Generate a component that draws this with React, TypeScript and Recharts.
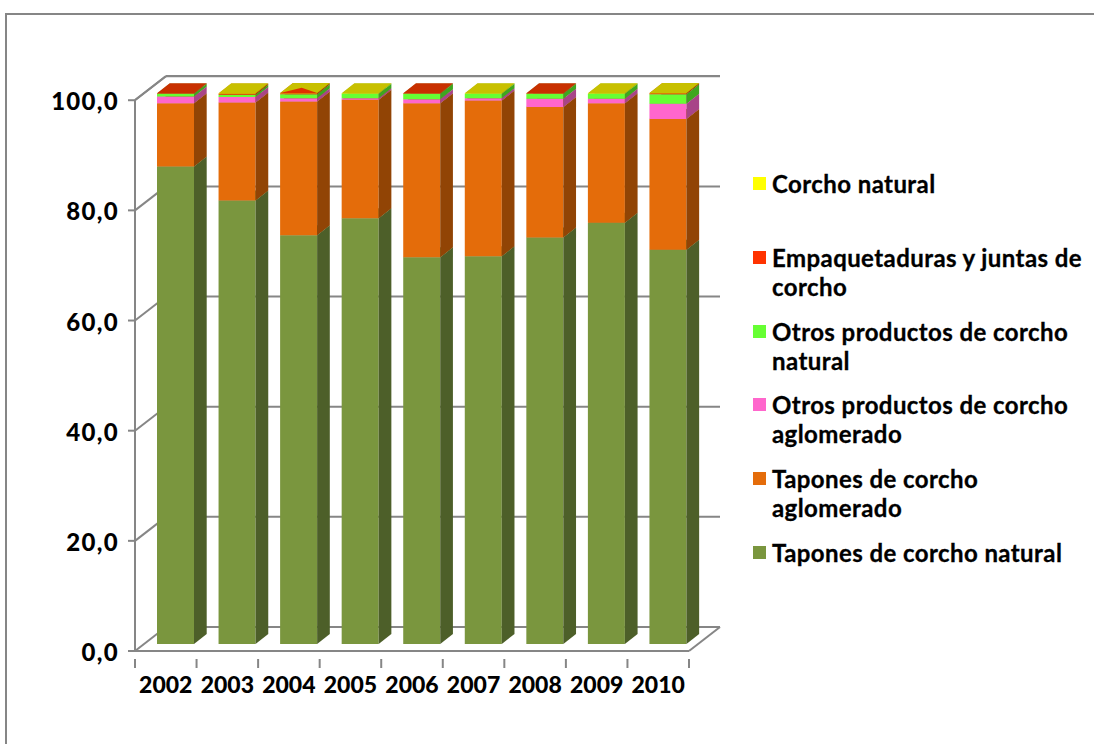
import { BarChart, Bar, XAxis, YAxis, CartesianGrid, Legend } from "recharts";

const years = ["2002", "2003", "2004", "2005", "2006", "2007", "2008", "2009", "2010"];
const taponesNatural = [86.7, 80.5, 74.2, 77.3, 70.2, 70.4, 73.8, 76.5, 71.6];
const taponesAglomerado = [11.5, 17.8, 24.3, 21.5, 28.0, 28.3, 23.7, 21.7, 23.7];
const otrosAglomerado = [1.2, 1.0, 0.6, 0.3, 0.7, 0.4, 1.5, 0.8, 2.8];
const otrosNatural = [0.5, 0.4, 0.7, 0.8, 1.0, 0.8, 0.9, 0.9, 1.7];
const empaquetaduras = [0.1, 0.2, 0.2, 0, 0.1, 0, 0.1, 0, 0.2];
const corchoNatural = [0, 0.1, 0.04, 0.1, 0, 0.1, 0, 0.1, 0.04];
const yTicks = [0, 20, 40, 60, 80, 100];

const series = [
  { key: "taponesNatural", name: "Tapones de corcho natural", values: taponesNatural, fill: "#7a963e", side: "#4d5f29", top: "#62782f" },
  { key: "taponesAglomerado", name: "Tapones de corcho aglomerado", values: taponesAglomerado, fill: "#e46c0a", side: "#914405", top: "#b55608" },
  { key: "otrosAglomerado", name: "Otros productos de corcho aglomerado", values: otrosAglomerado, fill: "#ff66cc", side: "#a84488", top: "#c850a0" },
  { key: "otrosNatural", name: "Otros productos de corcho natural", values: otrosNatural, fill: "#66ff33", side: "#3ea61f", top: "#50c828" },
  { key: "empaquetaduras", name: "Empaquetaduras y juntas de corcho", values: empaquetaduras, fill: "#ff3300", side: "#a82000", top: "#c83000" },
  { key: "corchoNatural", name: "Corcho natural", values: corchoNatural, fill: "#ffff00", side: "#a8a800", top: "#c8c000" },
];

const data = years.map((year, i) => {
  const row: Record<string, string | number> = { year };
  series.forEach((s) => (row[s.key] = s.values[i]));
  return row;
});

const FONT = "Lato, sans-serif";
const AXIS = "#868686";
const plotLeft = 135;
const plotRight = 689;
const step = (plotRight - plotLeft) / years.length;

function Box3D(props: any) {
  const { x, y, width, height, s, payload } = props;
  if (!height || height <= 0) return null;
  const l = x + 10;
  const r = l + width;
  const t = y - 7;
  const b = t + height;
  const dx = 12.7;
  const dy = -10;
  return (
    <g>
      <polygon points={`${l},${b} ${r},${b} ${r},${t} ${l},${t}`} fill={s.fill} />
      <polygon points={`${r},${b} ${r + dx},${b + dy} ${r + dx},${t + dy} ${r},${t}`} fill={s.side} />
      <polygon points={`${l},${t} ${r},${t} ${r + dx},${t + dy} ${l + dx},${t + dy}`} fill={s.top} />
      {s.key === "corchoNatural" && payload.year === "2004" && (
        <polygon points={`${l},${t} ${l + 21.6},${t - 5.3} ${r},${t}`} fill="#e03000" />
      )}
    </g>
  );
}

function GridLine(props: any) {
  const { x1, x2, y1, y, height } = props;
  const bx = 31;
  const by = -24;
  const floor = Math.abs(y1 - (y + height)) < 1;
  return (
    <g stroke={AXIS} strokeWidth={2} fill="none">
      <line x1={x1} y1={y1} x2={x1 + bx} y2={y1 + by} />
      <line x1={x1 + bx} y1={y1 + by} x2={x2 + bx} y2={y1 + by} />
      {floor && <line x1={x2} y1={y1} x2={x2 + bx} y2={y1 + by} />}
    </g>
  );
}

function YearTick(props: any) {
  const { x, y, index, payload } = props;
  return (
    <g>
      {index === 0 && <line x1={x - step / 2} y1={y} x2={x - step / 2} y2={y + 9} stroke={AXIS} strokeWidth={2} />}
      <line x1={x + step / 2} y1={y} x2={x + step / 2} y2={y + 9} stroke={AXIS} strokeWidth={2} />
      <text x={x} y={y + 34} textAnchor="middle" fontFamily={FONT} fontWeight={900} fontSize={23} fill="#000">
        {payload.value}
      </text>
    </g>
  );
}

function LevelTick(props: any) {
  const { x, y, payload } = props;
  return (
    <text x={x} y={y + 10} textAnchor="end" fontFamily={FONT} fontWeight={900} fontSize={24} letterSpacing={1.3} fill="#000">
      {payload.value.toFixed(1).replace(".", ",")}
    </text>
  );
}

function LegendBox({ payload }: any) {
  const items = [...(payload ?? [])].reverse();
  return (
    <div style={{ fontFamily: FONT, fontWeight: 700, fontSize: 24, letterSpacing: 0.42, lineHeight: "29px", color: "#000", WebkitTextStroke: "0.3px #000" }}>
      {items.map((it: any) => (
        <div key={it.value} style={{ height: 73.8, display: "flex", alignItems: "flex-start" }}>
          <span style={{ width: 13, height: 13, marginTop: 8, marginLeft: 1, marginRight: 6, background: it.color, flex: "none" }} />
          <span style={{ width: 315 }}>{it.value}</span>
        </div>
      ))}
    </div>
  );
}

export default function App() {
  return (
    <div style={{ position: "absolute", left: 0, top: 0, width: 1094, height: 744, overflow: "hidden", background: "#fff" }}>
      <div style={{ position: "absolute", left: 5, top: 13, width: 1200, height: 900, borderLeft: "2px solid #868686", borderTop: "2px solid #868686" }} />
      <BarChart
        width={1094}
        height={744}
        data={data}
        barSize={37}
        barCategoryGap={0}
        margin={{ top: 100, right: 405, bottom: 0, left: 35 }}
        style={{ position: "absolute", left: 0, top: 0 }}
      >
        <CartesianGrid vertical={false} horizontal={GridLine as any} />
        <XAxis
          dataKey="year"
          interval={0}
          height={93}
          tickLine={false}
          axisLine={{ stroke: AXIS, strokeWidth: 2 }}
          tick={YearTick as any}
        />
        <YAxis
          domain={[0, 100]}
          ticks={yTicks}
          width={100}
          interval={0}
          tickSize={7}
          tickMargin={9}
          tickLine={{ stroke: AXIS, strokeWidth: 2 }}
          axisLine={{ stroke: AXIS, strokeWidth: 2 }}
          tick={LevelTick as any}
        />
        <Legend
          layout="vertical"
          align="center"
          verticalAlign="middle"
          itemSorter={null}
          content={LegendBox as any}
          wrapperStyle={{ left: 752, top: 169, width: 340 }}
        />
        {series.map((s) => (
          <Bar
            key={s.key}
            dataKey={s.key}
            name={s.name}
            stackId="a"
            fill={s.fill}
            isAnimationActive={false}
            shape={(p: any) => <Box3D {...p} s={s} />}
          />
        ))}
      </BarChart>
    </div>
  );
}
